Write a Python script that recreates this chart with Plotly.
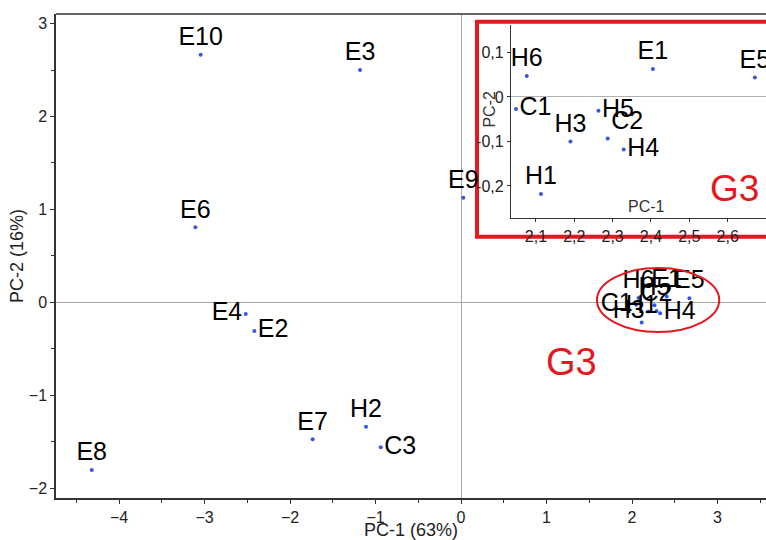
import plotly.graph_objects as go

# ---- data ----
main_labels = ["E10", "E3", "E9", "E6", "E4", "E2", "E7", "H2", "C3", "E8"]
main_x = [-3.045, -1.181, 0.027, -3.107, -2.518, -2.417, -1.735, -1.111, -0.939, -4.319]
main_y = [2.665, 2.50, 1.126, 0.807, -0.126, -0.309, -1.475, -1.339, -1.561, -1.805]
main_pos = ["top center", "top center", "top center", "top center", "middle left",
            "middle right", "top center", "top center", "middle right", "top center"]

g3_labels = ["H6", "E1", "E5", "C1", "H5", "H3", "C2", "H4", "H1"]
g3_x = [2.076, 2.405, 2.671, 2.048, 2.263, 2.190, 2.287, 2.329, 2.113]
g3_y = [0.047, 0.063, 0.044, -0.027, -0.031, -0.100, -0.093, -0.118, -0.218]
g3_main_pos = ["top center", "top center", "top center", "middle left", "top center",
               "middle left", "top center", "middle right", "top center"]
g3_inset_pos = ["top center", "top center", "top center", "middle right", "middle right",
                "top center", "top right", "middle right", "top center"]

x_ticks = [-4, -3, -2, -1, 0, 1, 2, 3]
y_ticks = [-2, -1, 0, 1, 2, 3]
inset_x_ticks = [2.1, 2.2, 2.3, 2.4, 2.5, 2.6]
inset_x_text = ["2,1", "2,2", "2,3", "2,4", "2,5", "2,6"]
inset_y_ticks = [-0.2, -0.1, 0, 0.1]
inset_y_text = ["-0,2", "-0,1", "0", "0,1"]

FONT = "Arial, Liberation Sans, sans-serif"
DOT = "#3556e6"
RED = "#e3191f"
AX = "#333333"
LBL = 25

fig = go.Figure()
fig.add_trace(go.Scatter(
    x=main_x + g3_x, y=main_y + g3_y, text=main_labels + g3_labels,
    mode="markers+text", textposition=main_pos + g3_main_pos,
    marker=dict(size=4, color=DOT), textfont=dict(family=FONT, size=LBL, color="#000"),
    hoverinfo="skip", showlegend=False, cliponaxis=False, xaxis="x", yaxis="y"))

fig.add_trace(go.Scatter(
    x=g3_x, y=g3_y, text=g3_labels, mode="markers+text", textposition=g3_inset_pos,
    marker=dict(size=4, color=DOT), textfont=dict(family=FONT, size=LBL, color="#000"),
    hoverinfo="skip", showlegend=False, cliponaxis=False, xaxis="x2", yaxis="y2"))

W, H = 766, 540
L, R, T, B = 56, 0, 14, 42

fig.update_layout(
    width=W, height=H, margin=dict(l=L, r=R, t=T, b=B),
    paper_bgcolor="white", plot_bgcolor="white",
    font=dict(family=FONT, size=16, color="#222"),
    xaxis=dict(domain=[0, 1], range=[-4.737, 3.567], tickvals=x_ticks,
               showline=True, linecolor=AX, linewidth=1.5, ticks="outside", ticklen=4,
               tickcolor=AX, minor=dict(ticks="outside", dtick=0.5, ticklen=3, tickcolor=AX),
               showgrid=False, zeroline=True, zerolinecolor="#a8a8a8", zerolinewidth=1,
               title=dict(text="PC-1 (63%)", standoff=0, font=dict(size=18)),
               tickfont=dict(size=16)),
    yaxis=dict(domain=[0, 1], range=[-2.107, 3.103], tickvals=y_ticks,
               showline=True, linecolor=AX, linewidth=1.5, ticks="outside", ticklen=4,
               tickcolor=AX, minor=dict(ticks="outside", dtick=0.5, ticklen=3, tickcolor=AX),
               showgrid=False, zeroline=True, zerolinecolor="#a8a8a8", zerolinewidth=1,
               title=dict(text="PC-2 (16%)", standoff=0, font=dict(size=18)),
               tickfont=dict(size=16)),
    xaxis2=dict(domain=[0.6408, 1.0], anchor="y2", range=[2.0348, 2.700],
                tickvals=inset_x_ticks, ticktext=inset_x_text,
                showline=True, linecolor=AX, linewidth=1.2, ticks="outside", ticklen=3,
                tickcolor=AX, showgrid=False, zeroline=False, tickfont=dict(size=16)),
    yaxis2=dict(domain=[0.5779, 0.9773], anchor="x2", range=[-0.2726, 0.1618],
                tickvals=inset_y_ticks, ticktext=inset_y_text,
                showline=True, linecolor=AX, linewidth=1.2, ticks="outside", ticklen=3,
                tickcolor=AX, showgrid=False, zeroline=True, zerolinecolor="#b0b0b0",
                zerolinewidth=1, tickfont=dict(size=16)),
    shapes=[
        dict(type="line", xref="paper", yref="paper", x0=0, x1=1, y0=1, y1=1,
             line=dict(color=AX, width=1.5)),
        dict(type="rect", xref="paper", yref="paper", x0=0.593, x1=1.05, y0=0.540, y1=0.984,
             line=dict(color=RED, width=4), fillcolor="white", layer="below"),
        dict(type="circle", xref="x", yref="y", x0=1.59, x1=3.02, y0=-0.32, y1=0.369,
             line=dict(color=RED, width=2)),
    ],
    annotations=[
        dict(text="G3", x=1.287, y=-0.643, xref="x", yref="y", showarrow=False,
             font=dict(size=38, color=RED, family=FONT)),
        dict(text="G3", x=2.619, y=-0.2067, xref="x2", yref="y2", showarrow=False,
             font=dict(size=37, color=RED, family=FONT)),
        dict(text="PC-1", x=2.389, y=-0.2465, xref="x2", yref="y2", showarrow=False,
             font=dict(size=16, color="#333", family=FONT)),
        dict(text="PC-2", x=0.610, y=0.845, xref="paper", yref="paper", showarrow=False,
             textangle=-90, font=dict(size=16, color="#333", family=FONT)),
    ],
)

fig.write_html("out.html")
